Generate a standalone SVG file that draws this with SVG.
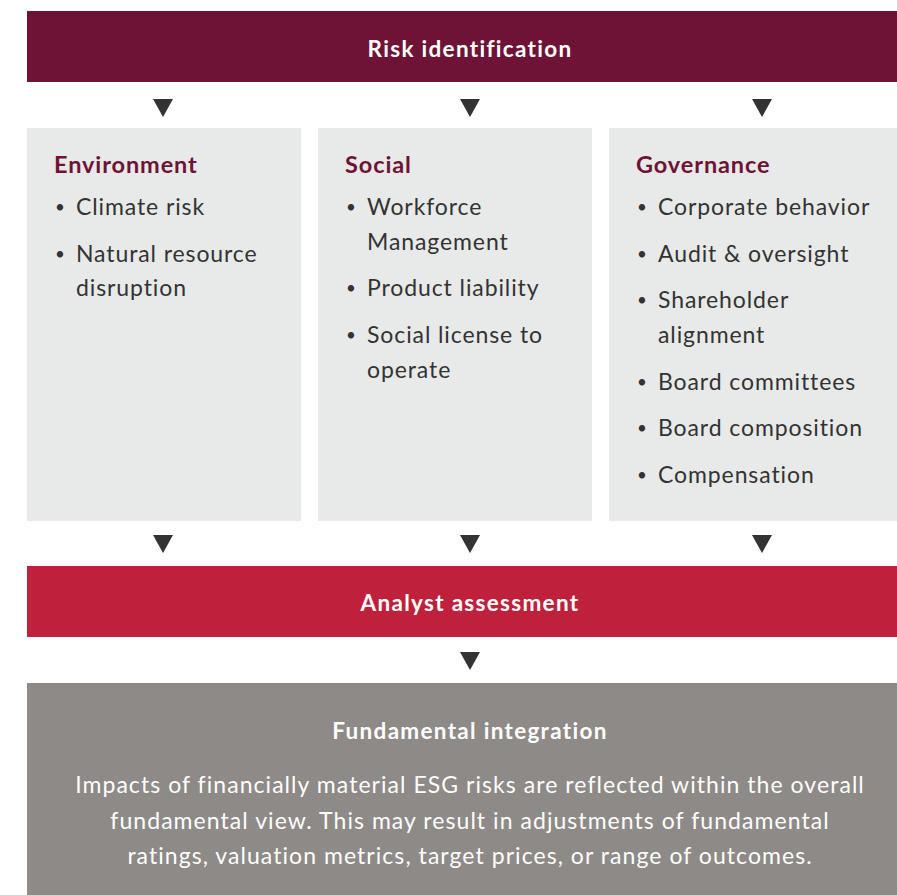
<svg xmlns="http://www.w3.org/2000/svg" width="897" height="895" viewBox="0 0 897 895">
<style>
text{font-family:Lato,"Open Sans","Liberation Sans",sans-serif}
.bar{font-size:22.5px;font-weight:bold;fill:#fff;text-anchor:middle;letter-spacing:1.3px}
.col{fill:#E8E9E9}
.hd{font-size:23.5px;font-weight:bold;fill:#6E1335;letter-spacing:0.9px}
.it{font-size:23px;fill:#333;letter-spacing:0.9px}
.bu{font-size:17px;fill:#333}
.par{font-size:23px;fill:#fff;text-anchor:middle;letter-spacing:1.05px}
.arr{fill:#333}
</style>
<rect width="897" height="895" fill="#fff"/>
<g id="risk-identification">
<rect x="27" y="11" width="870" height="71" fill="#6E1335"/>
<text class="bar" x="470" y="57">Risk identification</text>
</g>
<g id="environment">
<rect class="col" x="27" y="128" width="274" height="393"/>
<text class="hd" x="54" y="173">Environment</text>
<text class="bu" x="55" y="213">•</text>
<text class="it" x="76" y="215">Climate risk</text>
<text class="bu" x="55" y="260">•</text>
<text class="it" x="76" y="262">Natural resource</text>
<text class="it" x="76" y="296">disruption</text>
</g>
<g id="social">
<rect class="col" x="318" y="128" width="274" height="393"/>
<text class="hd" x="345" y="173">Social</text>
<text class="bu" x="346" y="213">•</text>
<text class="it" x="367" y="215">Workforce</text>
<text class="it" x="367" y="250">Management</text>
<text class="bu" x="346" y="294">•</text>
<text class="it" x="367" y="296">Product liability</text>
<text class="bu" x="346" y="341">•</text>
<text class="it" x="367" y="343">Social license to</text>
<text class="it" x="367" y="378">operate</text>
</g>
<g id="governance">
<rect class="col" x="609" y="128" width="288" height="393"/>
<text class="hd" x="636" y="173">Governance</text>
<text class="bu" x="637" y="213">•</text>
<text class="it" x="658" y="215">Corporate behavior</text>
<text class="bu" x="637" y="260">•</text>
<text class="it" x="658" y="262">Audit &amp; oversight</text>
<text class="bu" x="637" y="306">•</text>
<text class="it" x="658" y="308">Shareholder</text>
<text class="it" x="658" y="343">alignment</text>
<text class="bu" x="637" y="388">•</text>
<text class="it" x="658" y="390">Board committees</text>
<text class="bu" x="637" y="434">•</text>
<text class="it" x="658" y="436">Board composition</text>
<text class="bu" x="637" y="481">•</text>
<text class="it" x="658" y="483">Compensation</text>
</g>
<g id="analyst-assessment">
<rect x="27" y="566" width="870" height="71" fill="#BF213C"/>
<text class="bar" x="470" y="611">Analyst assessment</text>
</g>
<g id="fundamental-integration">
<rect x="27" y="683" width="870" height="212" fill="#8E8A87"/>
<text class="bar" x="470" y="739">Fundamental integration</text>
<text class="par" x="470" y="793">Impacts of financially material ESG risks are reflected within the overall</text>
<text class="par" x="470" y="829">fundamental view. This may result in adjustments of fundamental</text>
<text class="par" x="470" y="864">ratings, valuation metrics, target prices, or range of outcomes.</text>
</g>
<g id="connectors">
<polygon class="arr" points="153,99 173,99 163,117"/>
<polygon class="arr" points="460,99 480,99 470,117"/>
<polygon class="arr" points="752,99 772,99 762,117"/>
<polygon class="arr" points="153,535 173,535 163,553"/>
<polygon class="arr" points="460,535 480,535 470,553"/>
<polygon class="arr" points="752,535 772,535 762,553"/>
<polygon class="arr" points="460,652 480,652 470,670"/>
</g>
</svg>
